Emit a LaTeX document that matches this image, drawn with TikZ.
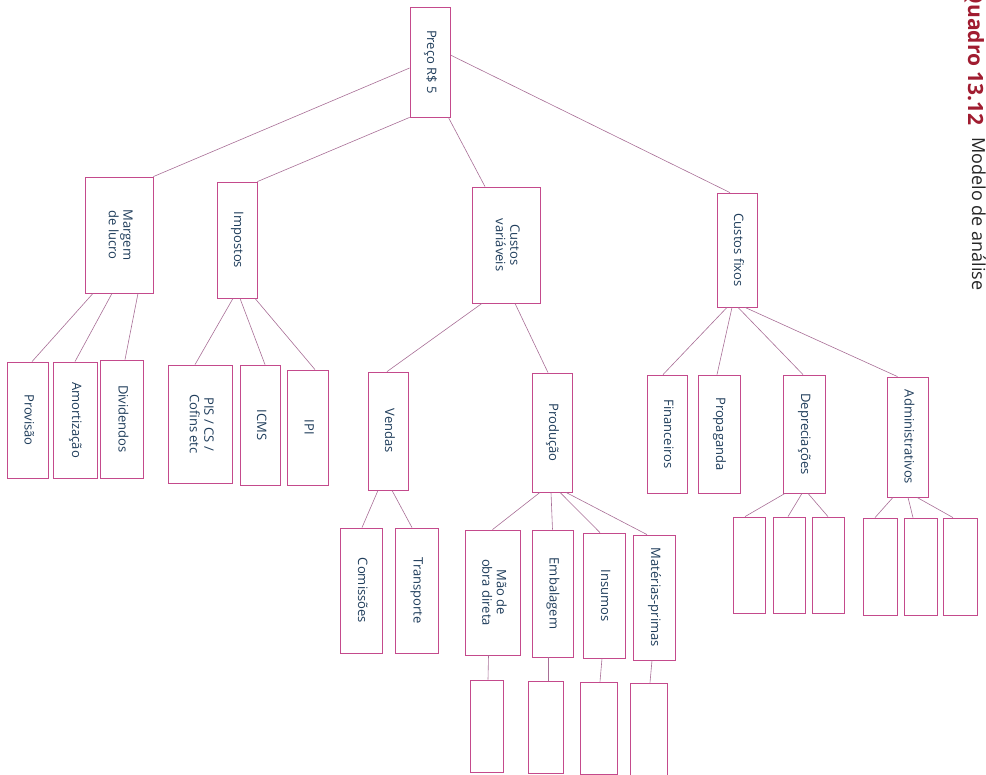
\documentclass[tikz,border=0pt]{standalone}
\usepackage{fontspec}
\setmainfont{Open Sans}
\usetikzlibrary{positioning,calc}
\definecolor{boxclr}{RGB}{196,74,140}
\definecolor{lineclr}{RGB}{168,110,150}
\definecolor{txtclr}{RGB}{30,60,90}
\definecolor{capclr}{RGB}{160,28,48}
\newcommand{\vtext}[1]{\rotatebox{-90}{\begin{tabular}{@{}c@{}}#1\end{tabular}}}
\tikzset{
  box/.style={draw=boxclr, line width=0.8pt, inner sep=0pt, text=txtclr, font=\fontsize{13}{14.5}\selectfont},
  sz/.style 2 args={minimum width=#1pt, minimum height=#2pt},
  link/.style={draw=lineclr, line width=0.6pt},
}
\begin{document}
\begin{tikzpicture}[x=1pt,y=-1pt]
	\useasboundingbox (0,0) rectangle (986,775);
	\node [box, sz={40}{110}] (preco) at (430,62) {\vtext{Preço R\$ 5}};
	\node [box, sz={68}{116}] (margem) at (119,235) {\vtext{Margem\\de lucro}};
	\node [box, sz={40}{116}] (impostos) at (237,240) {\vtext{Impostos}};
	\node [box, sz={68}{116}] (cvar) at (506,245) {\vtext{Custos\\variáveis}};
	\node [box, sz={40}{114}] (cfix) at (737,250) {\vtext{Custos fixos}};
	\node [box, sz={41}{116}] (provisao) at (27.5,420) {\vtext{Provisão}};
	\node [box, sz={44}{116}] (amort) at (75,420) {\vtext{Amortização}};
	\node [box, sz={43}{118}] (divid) at (121.5,419) {\vtext{Dividendos}};
	\node [box, sz={64}{118}] (pis) at (200,424) {\vtext{PIS / CS /\\Cofins etc}};
	\node [box, sz={40}{120}] (icms) at (260,425) {\vtext{ICMS}};
	\node [box, sz={41}{115}] (ipi) at (307.5,427.5) {\vtext{IPI}};
	\node [box, sz={40}{118}] (vendas) at (388,431) {\vtext{Vendas}};
	\node [box, sz={40}{119}] (producao) at (552,432.5) {\vtext{Produção}};
	\node [box, sz={40}{118}] (financ) at (667,434) {\vtext{Financeiros}};
	\node [box, sz={42}{118}] (propag) at (719,434) {\vtext{Propaganda}};
	\node [box, sz={42}{118}] (deprec) at (804,434) {\vtext{Depreciações}};
	\node [box, sz={41}{120}] (admin) at (907.5,437) {\vtext{Administrativos}};
	\node [box, sz={42}{125}] (comiss) at (361,590.5) {\vtext{Comissões}};
	\node [box, sz={43}{125}] (transp) at (416.5,590.5) {\vtext{Transporte}};
	\node [box, sz={55}{125}] (mao) at (492.5,592.5) {\vtext{Mão de\\obra direta}};
	\node [box, sz={41}{127}] (embal) at (552.5,593.5) {\vtext{Embalagem}};
	\node [box, sz={42}{125}] (insumos) at (604,595.5) {\vtext{Insumos}};
	\node [box, sz={42}{125}] (materias) at (654,597.5) {\vtext{Matérias-primas}};
	\node [box, sz={32}{96}] (dep1) at (749,565) {};
	\node [box, sz={32}{96}] (dep2) at (789,565) {};
	\node [box, sz={32}{96}] (dep3) at (828,565) {};
	\node [box, sz={34}{97}] (adm1) at (880,566.5) {};
	\node [box, sz={33}{97}] (adm2) at (920.5,566.5) {};
	\node [box, sz={34}{97}] (adm3) at (960,566.5) {};
	\node [box, sz={33}{92}] (mao1) at (486.5,726) {};
	\node [box, sz={35}{92}] (emb1) at (545.5,727) {};
	\node [box, sz={37}{92}] (ins1) at (598.5,728) {};
	\node [box, sz={37}{92}] (mat1) at (648.5,729) {};
	\draw [link] ([yshift=-6]preco.west) -- (margem.north east);
	\draw [link] (preco.south west) -- (impostos.north east);
	\draw [link] ([xshift=-2]preco.south east) -- ([xshift=-21]cvar.north);
	\draw [link] ([yshift=7]preco.east) -- ([xshift=-7]cfix.north);
	\draw [link] ([xshift=-26]margem.south) -- ([xshift=4.5]provisao.north);
	\draw [link] ([xshift=-7]margem.south) -- (amort.north);
	\draw [link] ([xshift=19]margem.south) -- ([xshift=3.5]divid.north);
	\draw [link] ([xshift=-4]impostos.south) -- ([xshift=-5]pis.north);
	\draw [link] ([xshift=3]impostos.south) -- ([xshift=5]icms.north);
	\draw [link] ([xshift=18]impostos.south) -- ([xshift=7.5]ipi.north);
	\draw [link] ([xshift=-24]cvar.south) -- ([xshift=-1]vendas.north);
	\draw [link] ([xshift=9]cvar.south) -- ([xshift=-4]producao.north);
	\draw [link] ([xshift=-10]cfix.south) -- ([xshift=-4]financ.north);
	\draw [link] ([xshift=-5]cfix.south) -- ([xshift=-2]propag.north);
	\draw [link] ([xshift=1]cfix.south) -- ([xshift=-1]deprec.north);
	\draw [link] ([xshift=8]cfix.south) -- ([xshift=-10]admin.north);
	\draw [link] ([xshift=-10]vendas.south) -- ([xshift=1]comiss.north);
	\draw [link] ([xshift=4]vendas.south) -- ([xshift=-4.5]transp.north);
	\draw [link] ([xshift=-12]producao.south) -- (mao.north);
	\draw [link] ([xshift=-1]producao.south) -- (embal.north);
	\draw [link] ([xshift=8]producao.south) -- ([xshift=-4]insumos.north);
	\draw [link] ([xshift=14]producao.south) -- ([xshift=-7]materias.north);
	\draw [link] ([xshift=-19]deprec.south) -- ([xshift=-4]dep1.north);
	\draw [link] ([xshift=-2]deprec.south) -- ([xshift=-1]dep2.north);
	\draw [link] ([xshift=4]deprec.south) -- (dep3.north);
	\draw [link] ([xshift=-14.5]admin.south) -- ([xshift=-5]adm1.north);
	\draw [link] ([xshift=0.5]admin.south) -- ([xshift=-7.5]adm2.north);
	\draw [link] ([xshift=9.5]admin.south) -- ([xshift=-7]adm3.north);
	\draw [link] ([xshift=-4]mao.south) -- ([xshift=1.5]mao1.north);
	\draw [link] ([xshift=-4.5]embal.south) -- ([xshift=2.5]emb1.north);
	\draw [link] ([xshift=-2]insumos.south) -- ([xshift=1.5]ins1.north);
	\draw [link] ([xshift=-2]materias.south) -- ([xshift=1.5]mat1.north);
	\node [rotate=-90, anchor=base west, text=capclr, font=\fontsize{21}{24}\bfseries] (quadro) at (968,-16) {Quadro 13.12};
	\node [rotate=-90, anchor=base west, text=black!85, font=\fontsize{18}{20}\selectfont] (titulo) at (972,134) {Modelo de análise};
\end{tikzpicture}
\end{document}
